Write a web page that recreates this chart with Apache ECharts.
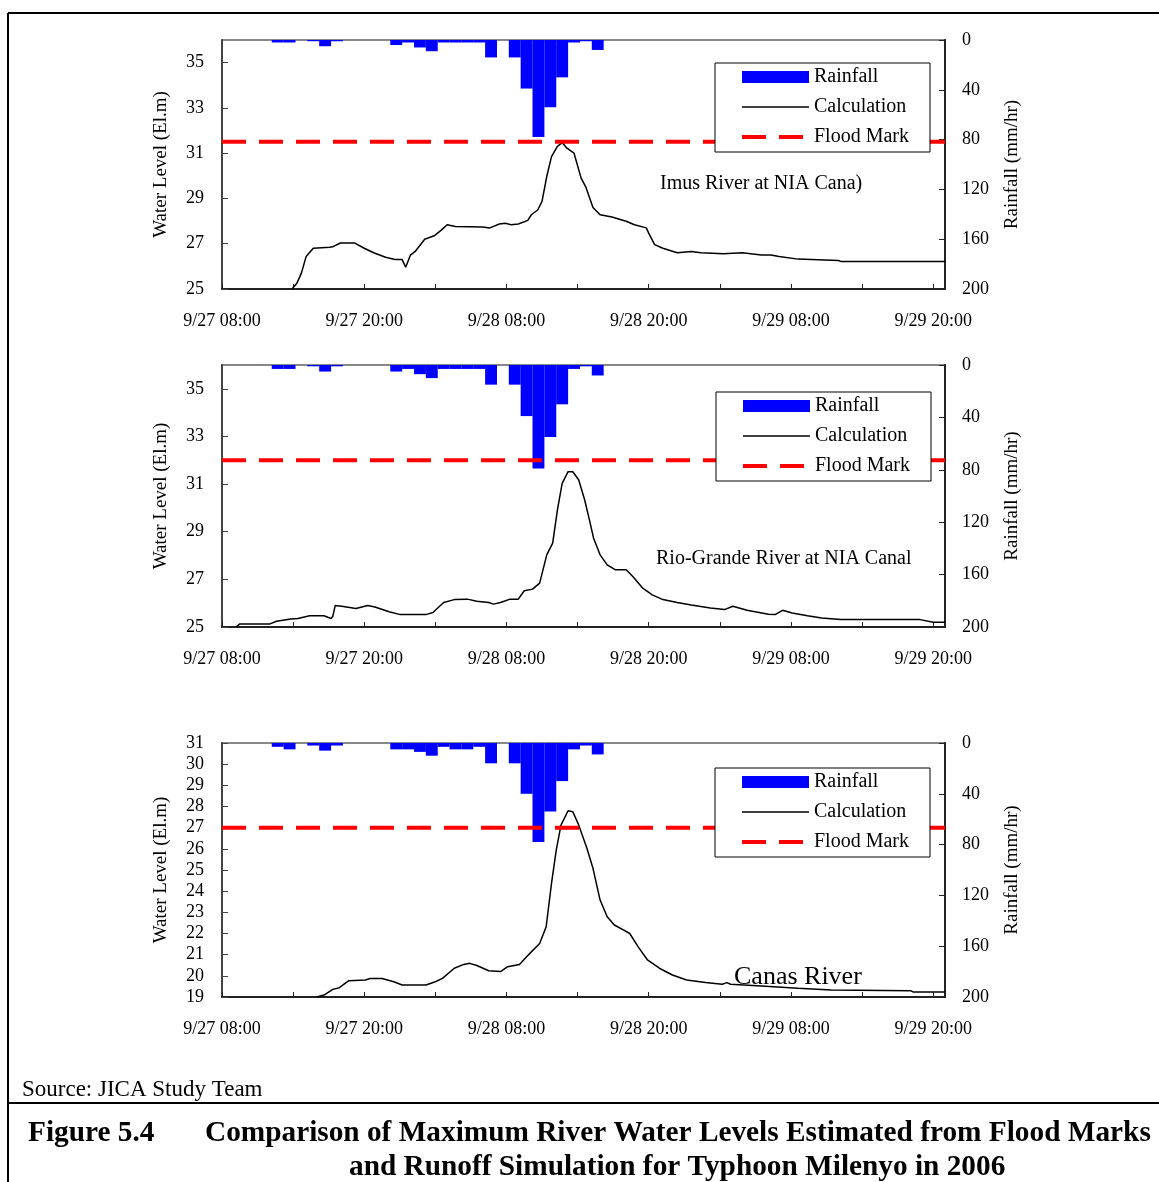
<!DOCTYPE html>
<html><head><meta charset="utf-8">
<script src="https://cdn.jsdelivr.net/npm/echarts@6/dist/echarts.min.js"></script>
<style>html,body{margin:0;padding:0;background:#fff}#c{width:1159px;height:1182px}</style>
</head><body><div id="c"></div><script>
// ---- Data ----
const xTickHours = [0, 6, 12, 18, 24, 30, 36, 42, 48, 54, 60];
const xLabelHours = [0, 12, 24, 36, 48, 60];
const xTickLabels = ['9/27 08:00', '9/27 20:00', '9/28 08:00', '9/28 20:00', '9/29 08:00', '9/29 20:00'];
const levelTicks1 = [25, 27, 29, 31, 33, 35];
const levelTicks2 = [25, 27, 29, 31, 33, 35];
const levelTicks3 = [19, 20, 21, 22, 23, 24, 25, 26, 27, 28, 29, 30, 31];
const rainTicks = [0, 40, 80, 120, 160, 200];

// hourly rainfall (mm/hr), index = hours after 9/27 08:00
const rain1 = [0,0,0,0,2,2,0,1,5,1,0,0,0,0,4,2,6,9,2,2,2,2,14,0,14,39,78,54,30,2,1,8];
const rain2 = [0,0,0,0,3,3,0,1,5,1,0,0,0,0,5,3,7,10,3,3,3,3,15,0,15,39,79,55,30,3,1,8];
const rain3 = [0,0,0,0,3,5,0,2,6,2,0,0,0,0,5,5,7,10,3,5,5,3,16,0,16,40,78,54,30,5,2,9];

// calculated water level [hours after 9/27 08:00, El.m]
const calc1 = [[5.9,25.0],[6.3,25.24],[6.7,25.7],[7.1,26.44],[7.7,26.8],[9.1,26.84],[9.4,26.88],[10.0,27.03],[11.2,27.03],[12.0,26.8],[12.8,26.6],[13.8,26.4],[14.6,26.3],[15.2,26.3],[15.5,25.96],[15.9,26.5],[16.3,26.66],[17.1,27.2],[17.9,27.35],[18.5,27.6],[19.0,27.84],[19.7,27.76],[22.0,27.74],[22.6,27.7],[23.4,27.87],[23.9,27.9],[24.4,27.84],[25.0,27.87],[25.8,28.03],[26.1,28.28],[26.65,28.5],[27.0,28.87],[27.4,29.97],[27.8,30.85],[28.3,31.3],[28.7,31.47],[29.1,31.22],[29.7,31.0],[30.3,29.9],[30.7,29.5],[31.3,28.6],[31.9,28.28],[32.9,28.18],[34.1,27.99],[34.8,27.84],[35.8,27.7],[36.0,27.47],[36.5,26.96],[37.2,26.8],[38.4,26.6],[39.6,26.66],[40.4,26.6],[42.3,26.56],[43.9,26.6],[45.5,26.5],[46.3,26.5],[47.0,26.44],[48.6,26.32],[52.0,26.26],[52.2,26.22],[61,26.22]];
const calc2 = [[1.2,25.0],[1.5,25.13],[4.05,25.13],[4.6,25.24],[5.8,25.34],[6.4,25.36],[7.4,25.47],[8.6,25.47],[9.2,25.36],[9.35,25.45],[9.55,25.9],[10.1,25.87],[11.3,25.78],[12.3,25.9],[12.9,25.84],[14.1,25.64],[15.05,25.52],[17.2,25.52],[17.8,25.61],[18.2,25.8],[18.7,26.03],[19.6,26.15],[20.7,26.17],[21.5,26.08],[22.5,26.03],[22.9,25.96],[23.5,26.03],[24.3,26.17],[25.0,26.17],[25.5,26.52],[26.2,26.59],[26.8,26.84],[27.4,28.03],[27.9,28.52],[28.3,29.92],[28.7,31.03],[29.2,31.52],[29.6,31.52],[30.1,31.17],[30.6,30.33],[31.0,29.5],[31.35,28.73],[31.9,28.03],[32.5,27.61],[33.2,27.4],[34.1,27.4],[34.7,27.1],[35.5,26.63],[36.3,26.35],[37.2,26.15],[38.4,26.03],[39.6,25.92],[41.2,25.8],[42.4,25.73],[43.1,25.87],[44.3,25.7],[46.1,25.54],[46.7,25.53],[47.3,25.7],[48.1,25.59],[49.4,25.47],[50.6,25.38],[52.2,25.31],[58.9,25.31],[60.0,25.2],[61,25.2]];
const calc3 = [[8.0,19.0],[8.6,19.09],[9.35,19.36],[9.9,19.44],[10.7,19.77],[12.1,19.8],[12.5,19.87],[13.5,19.87],[14.5,19.72],[15.2,19.57],[17.2,19.57],[18.0,19.72],[18.6,19.88],[19.6,20.36],[20.4,20.54],[20.9,20.59],[21.5,20.49],[22.5,20.24],[23.5,20.2],[24.1,20.43],[25.1,20.54],[25.7,20.9],[26.2,21.19],[26.8,21.53],[27.35,22.32],[27.8,24.37],[28.2,25.94],[28.6,27.12],[29.2,27.8],[29.6,27.75],[30.1,27.12],[30.8,26.0],[31.3,25.08],[31.9,23.58],[32.5,22.79],[33.1,22.4],[33.9,22.16],[34.4,22.0],[35.1,21.38],[35.9,20.75],[36.9,20.36],[38.0,20.04],[39.2,19.8],[40.8,19.68],[42.2,19.6],[42.6,19.68],[42.9,19.6],[45.5,19.52],[48.6,19.41],[51.4,19.33],[58.1,19.3],[58.3,19.24],[61,19.24]];

const floodMarks = [31.5, 32.0, 27.0];
const panelTitles = ['Imus River at NIA Cana)', 'Rio-Grande River at NIA Canal', 'Canas River'];
const xMax = 61;

// ---- Chart ----
const FONT = '"Liberation Serif", "Times New Roman", serif';
const chart = echarts.init(document.getElementById('c'), null, {renderer: 'canvas'});

const grids = [
  {left: 222, top: 40, width: 723, height: 249},
  {left: 222, top: 365, width: 723, height: 262},
  {left: 222, top: 743, width: 723, height: 254}
];
const levelRanges = [[25, 36, levelTicks1], [25, 36, levelTicks2], [19, 31, levelTicks3]];
const rains = [rain1, rain2, rain3];
const calcs = [calc1, calc2, calc3];
const legendPos = [[715, 63], [716, 392], [715, 768]];
const titlePos = [[660, 182, 20], [656, 557, 20], [734, 976, 26]];
const RAIN_OFFSET = 0.7; // bar centre within each hour

const xAxes = [], yAxes = [], series = [], legends = [];
grids.forEach((g, i) => {
  g.show = true; g.borderColor = '#888'; g.borderWidth = 2; g.backgroundColor = '#fff';
  xAxes.push({
    type: 'value', gridIndex: i, min: 0, max: xMax, position: 'bottom',
    axisLine: {show: true, onZero: false, lineStyle: {color: '#222', width: 2}},
    axisTick: {show: true, inside: true, length: 5, customValues: xTickHours, lineStyle: {color: '#222'}},
    axisLabel: {show: true, customValues: xLabelHours, margin: 23, color: '#000',
      fontFamily: FONT, fontSize: 18,
      formatter: v => { const k = xLabelHours.indexOf(v); return k >= 0 ? xTickLabels[k] : ''; }},
    splitLine: {show: false}
  });
  const [lo, hi, ticks] = levelRanges[i];
  yAxes.push({
    type: 'value', gridIndex: i, position: 'left', min: lo, max: hi,
    name: 'Water Level (El.m)', nameLocation: 'middle', nameRotate: 90, nameGap: 51,
    nameTextStyle: {fontFamily: FONT, fontSize: 19, color: '#000'},
    axisLine: {show: true, onZero: false, lineStyle: {color: '#444', width: 2}},
    axisTick: {show: true, inside: true, length: 6, customValues: ticks, lineStyle: {color: '#444'}},
    axisLabel: {customValues: ticks, margin: 18, color: '#000', fontFamily: FONT, fontSize: 18},
    splitLine: {show: false}
  });
  yAxes.push({
    type: 'value', gridIndex: i, position: 'right', min: 0, max: 200, interval: 40, inverse: true,
    name: 'Rainfall (mm/hr)', nameLocation: 'middle', nameRotate: 90, nameGap: 58,
    nameTextStyle: {fontFamily: FONT, fontSize: 19, color: '#000'},
    axisLine: {show: true, onZero: false, lineStyle: {color: '#222', width: 2}},
    axisTick: {show: true, inside: true, length: 6, customValues: rainTicks, lineStyle: {color: '#222'}},
    axisLabel: {customValues: rainTicks, margin: 17, color: '#000', fontFamily: FONT, fontSize: 18},
    splitLine: {show: false}
  });
  const rainData = [];
  rains[i].forEach((v, h) => { if (v > 0) rainData.push([h + RAIN_OFFSET, v]); });
  series.push({
    name: 'Rainfall', type: 'bar', xAxisIndex: i, yAxisIndex: 2 * i + 1,
    data: rainData, barWidth: 11.9, barGap: '-100%', itemStyle: {color: '#0000ff'},
    animation: false, z: 2
  });
  series.push({
    name: 'Calculation', type: 'line', xAxisIndex: i, yAxisIndex: 2 * i,
    data: calcs[i], symbol: 'none', lineStyle: {color: '#000', width: 1.5},
    itemStyle: {color: '#000'}, animation: false, z: 2
  });
  series.push({
    name: 'Flood Mark', type: 'line', xAxisIndex: i, yAxisIndex: 2 * i,
    data: [[0, floodMarks[i]], [xMax, floodMarks[i]]], symbol: 'none',
    lineStyle: {color: '#ff0000', width: 4, type: [24, 13]},
    itemStyle: {color: '#ff0000'}, animation: false, z: 3
  });
  legends.push({
    left: legendPos[i][0], top: legendPos[i][1], orient: 'vertical', z: 20,
    selectedMode: false, backgroundColor: '#fff', borderColor: '#000', borderWidth: 1,
    padding: [4, 21, 5, 25], itemGap: 10, itemWidth: 67, itemHeight: 12,
    textStyle: {fontFamily: FONT, fontSize: 20, color: '#000'},
    data: [
      {name: 'Rainfall', icon: 'rect'},
      {name: 'Calculation', itemStyle: {opacity: 0}, lineStyle: {width: 1.5, color: '#000'}},
      {name: 'Flood Mark', itemStyle: {opacity: 0}, lineStyle: {width: 4, color: '#ff0000', type: [24, 13]}}
    ]
  });
});

const graphics = [
  {type: 'line', shape: {x1: 8, y1: 13, x2: 1159, y2: 13}, style: {stroke: '#000', lineWidth: 2}},
  {type: 'line', shape: {x1: 8, y1: 13, x2: 8, y2: 1182}, style: {stroke: '#000', lineWidth: 2}},
  {type: 'line', shape: {x1: 8, y1: 1103, x2: 1159, y2: 1103}, style: {stroke: '#000', lineWidth: 2}},
  {type: 'text', left: 22, top: 1078, style: {text: 'Source: JICA Study Team', font: '23px ' + FONT, fill: '#000'}},
  {type: 'text', left: 28, top: 1119, style: {text: 'Figure 5.4', font: 'bold 29.3px ' + FONT, fill: '#000'}},
  {type: 'text', left: 205, top: 1119, style: {text: 'Comparison of Maximum River Water Levels Estimated from Flood Marks', font: 'bold 29.3px ' + FONT, fill: '#000'}},
  {type: 'text', left: 349, top: 1153, style: {text: 'and Runoff Simulation for Typhoon Milenyo in 2006', font: 'bold 29.3px ' + FONT, fill: '#000'}}
];
titlePos.forEach((p, i) => {
  graphics.push({type: 'text', left: p[0], top: p[1] - p[2] * 0.6 + 4, z: 10,
    style: {text: panelTitles[i], font: p[2] + 'px ' + FONT, fill: '#000'}});
});

chart.setOption({
  backgroundColor: '#fff',
  animation: false,
  grid: grids, xAxis: xAxes, yAxis: yAxes, series: series, legend: legends,
  graphic: graphics
});
</script></body></html>
